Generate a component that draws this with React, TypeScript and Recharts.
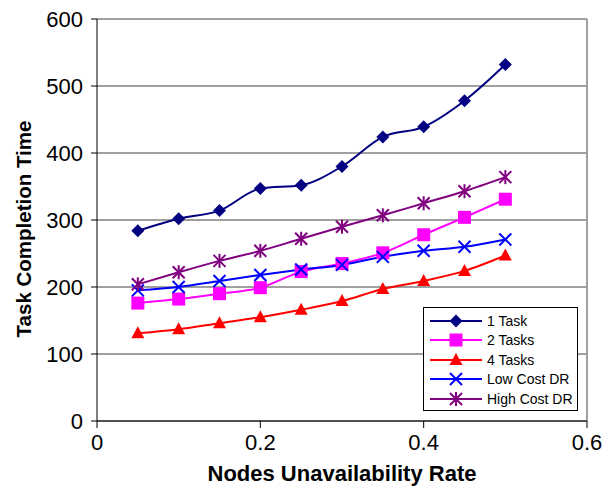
import React from "react"
import {
  LineChart,
  Line,
  XAxis,
  YAxis,
  CartesianGrid,
  ReferenceLine,
} from "recharts"

// ── Data ─────────────────────────────────────────────────────────────────────
const RATES = [0.05, 0.1, 0.15, 0.2, 0.25, 0.3, 0.35, 0.4, 0.45, 0.5]
const ONE_TASK = [284, 302, 314, 347, 352, 380, 424, 439, 478, 532]
const TWO_TASKS = [176, 182, 190, 199, 223, 235, 251, 278, 304, 331]
const FOUR_TASKS = [131, 137, 146, 155, 166, 179, 197, 209, 224, 247]
const LOW_COST_DR = [195, 200, 209, 218, 226, 233, 245, 254, 260, 271]
const HIGH_COST_DR = [204, 222, 239, 254, 272, 290, 307, 325, 343, 364]
const X_TICKS = [0, 0.2, 0.4, 0.6]
const Y_TICKS = [0, 100, 200, 300, 400, 500, 600]

const data = RATES.map((rate, i) => ({
  rate,
  one: ONE_TASK[i],
  two: TWO_TASKS[i],
  four: FOUR_TASKS[i],
  low: LOW_COST_DR[i],
  high: HIGH_COST_DR[i],
}))

const FONT = "'Liberation Sans', Arial, sans-serif"

// ── Markers ──────────────────────────────────────────────────────────────────
type Shape = "diamond" | "square" | "triangle" | "x" | "star"

function Marker({ cx, cy, shape, color }: { cx: number; cy: number; shape: Shape; color: string }) {
  if (cx == null || cy == null) return null
  const r = 6.5
  switch (shape) {
    case "diamond":
      return (
        <polygon
          points={`${cx},${cy - r} ${cx + r},${cy} ${cx},${cy + r} ${cx - r},${cy}`}
          fill={color}
        />
      )
    case "square":
      return <rect x={cx - 6.5} y={cy - 6.5} width={13} height={13} fill={color} />
    case "triangle":
      return (
        <polygon
          points={`${cx},${cy - 7} ${cx + 6.5},${cy + 5} ${cx - 6.5},${cy + 5}`}
          fill={color}
        />
      )
    case "x":
      return (
        <g stroke={color} strokeWidth={2}>
          <line x1={cx - 6} y1={cy - 6} x2={cx + 6} y2={cy + 6} />
          <line x1={cx - 6} y1={cy + 6} x2={cx + 6} y2={cy - 6} />
        </g>
      )
    case "star":
      return (
        <g stroke={color} strokeWidth={2}>
          <line x1={cx - 6} y1={cy - 6} x2={cx + 6} y2={cy + 6} />
          <line x1={cx - 6} y1={cy + 6} x2={cx + 6} y2={cy - 6} />
          <line x1={cx} y1={cy - 7} x2={cx} y2={cy + 7} />
        </g>
      )
  }
}

const SERIES: { key: string; name: string; color: string; shape: Shape }[] = [
  { key: "one", name: "1 Task", color: "#000080", shape: "diamond" },
  { key: "two", name: "2 Tasks", color: "#ff00ff", shape: "square" },
  { key: "four", name: "4 Tasks", color: "#ff0000", shape: "triangle" },
  { key: "low", name: "Low Cost DR", color: "#0000ff", shape: "x" },
  { key: "high", name: "High Cost DR", color: "#800080", shape: "star" },
]

function LegendBox() {
  return (
    <div
      style={{
        position: "absolute",
        left: 423,
        top: 307,
        width: 155,
        height: 104,
        border: "1px solid #000",
        background: "#fff",
        fontFamily: FONT,
        fontSize: 14,
        paddingTop: 3,
        boxSizing: "border-box",
      }}
    >
      {SERIES.map((s) => (
        <div key={s.key} style={{ display: "flex", alignItems: "center", height: 19.5 }}>
          <svg width={58} height={16} style={{ marginLeft: 5, flexShrink: 0 }}>
            <line x1={1} y1={8} x2={53} y2={8} stroke={s.color} strokeWidth={2} />
            <Marker cx={27} cy={8} shape={s.shape} color={s.color} />
          </svg>
          <span style={{ color: "#000", whiteSpace: "nowrap" }}>{s.name}</span>
        </div>
      ))}
    </div>
  )
}

// y-axis title, centred a little below the plot's middle like the original
function YTitle({ viewBox }: any) {
  const cy = viewBox.y + viewBox.height / 2 + 9
  return (
    <text
      x={23}
      y={cy}
      transform={`rotate(-90, 23, ${cy})`}
      textAnchor="middle"
      dominantBaseline="central"
      fontSize={20.5}
      fontWeight="bold"
      fontFamily={FONT}
      fill="#000"
    >
      Task Completion Time
    </text>
  )
}

export default function App() {
  return (
    <div style={{ position: "absolute", left: 0, top: 0, width: 603, height: 487, background: "#fff" }}>
      <LineChart
        width={603}
        height={487}
        data={data}
        margin={{ top: 19, right: 16, bottom: 0, left: 0 }}
      >
        <CartesianGrid vertical={false} stroke="#404040" strokeWidth={1} />
        <ReferenceLine y={600} stroke="#a0a0a0" strokeWidth={2} />
        <ReferenceLine x={0.6} stroke="#a0a0a0" strokeWidth={2} />
        <XAxis
          dataKey="rate"
          type="number"
          domain={[0, 0.6]}
          ticks={X_TICKS}
          height={66}
          stroke="#000"
          tickSize={7}
          tick={{ fontSize: 22, fill: "#000", fontFamily: FONT }}
          tickMargin={6}
          label={{
            value: "Nodes Unavailability Rate",
            position: "insideBottom",
            offset: 6,
            style: { fontSize: 22, fontWeight: "bold", fill: "#000", fontFamily: FONT },
          }}
        />
        <YAxis
          domain={[0, 600]}
          ticks={Y_TICKS}
          width={97}
          stroke="#000"
          tickSize={6}
          tickMargin={8}
          tick={{ fontSize: 22, fill: "#000", fontFamily: FONT }}
          label={<YTitle />}
        />
        {SERIES.map((s) => (
          <Line
            key={s.key}
            type="monotone"
            dataKey={s.key}
            name={s.name}
            stroke={s.color}
            strokeWidth={2}
            isAnimationActive={false}
            dot={(p: any) => (
              <Marker key={`${s.key}-${p.index}`} cx={p.cx} cy={p.cy} shape={s.shape} color={s.color} />
            )}
            activeDot={false}
          />
        ))}
      </LineChart>
      <LegendBox />
    </div>
  )
}
